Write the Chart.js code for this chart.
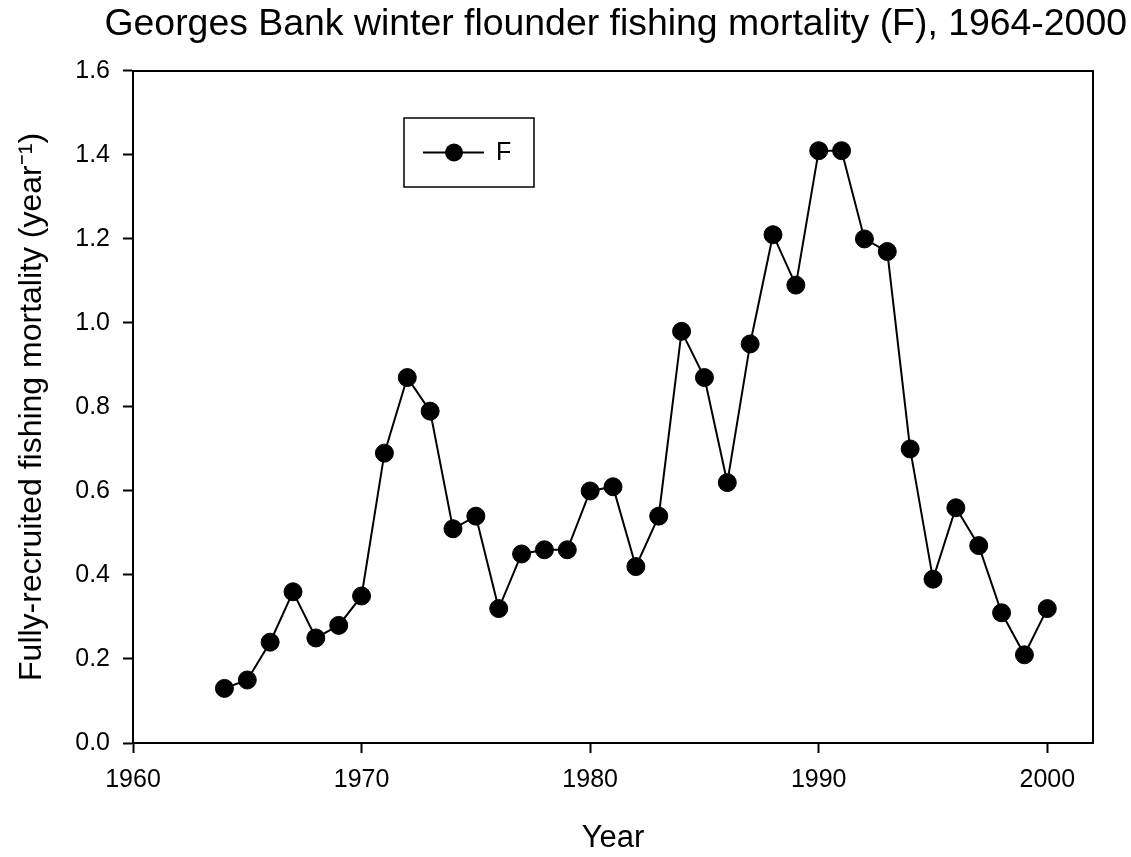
<!DOCTYPE html>
<html>
<head>
<meta charset="utf-8">
<script src="https://cdn.jsdelivr.net/npm/chart.js@4/dist/chart.umd.min.js"></script>
<style>
html,body{margin:0;padding:0;background:#fff;}
#wrap{width:1131px;height:857px;}
</style>
</head>
<body>
<div id="wrap"><canvas id="c" width="1131" height="857"></canvas></div>
<script>
const years = [1964,1965,1966,1967,1968,1969,1970,1971,1972,1973,1974,1975,1976,1977,1978,1979,1980,1981,1982,1983,1984,1985,1986,1987,1988,1989,1990,1991,1992,1993,1994,1995,1996,1997,1998,1999,2000];
const fValues = [0.13,0.15,0.24,0.36,0.25,0.28,0.35,0.69,0.87,0.79,0.51,0.54,0.32,0.45,0.46,0.46,0.60,0.61,0.42,0.54,0.98,0.87,0.62,0.95,1.21,1.09,1.41,1.41,1.20,1.17,0.70,0.39,0.56,0.47,0.31,0.21,0.32];
const seriesLabel = 'F';
const titleText = 'Georges Bank winter flounder fishing mortality (F), 1964-2000';
const xTitle = 'Year';
const yTitle = 'Fully-recruited fishing mortality (year\u207B\u00B9)';
const xTicks = [1960,1970,1980,1990,2000];
const yTicks = [0.0,0.2,0.4,0.6,0.8,1.0,1.2,1.4,1.6];

const FONT = '"Liberation Sans", Arial, Helvetica, sans-serif';

const framePlugin = {
  id: 'frame',
  afterDraw(chart) {
    const {ctx, chartArea: a} = chart;
    ctx.save();
    ctx.strokeStyle = '#000';
    ctx.lineWidth = 2;
    ctx.beginPath();
    ctx.moveTo(a.left, a.top);
    ctx.lineTo(a.right, a.top);
    ctx.lineTo(a.right, a.bottom);
    ctx.stroke();
    // legend box
    const bx = 404, by = 118, bw = 130, bh = 69;
    ctx.lineWidth = 1.5;
    ctx.strokeRect(bx, by, bw, bh);
    const cy = by + bh / 2;
    ctx.lineWidth = 2;
    ctx.beginPath();
    ctx.moveTo(423, cy);
    ctx.lineTo(484, cy);
    ctx.stroke();
    ctx.beginPath();
    ctx.arc(454, cy, 9, 0, Math.PI * 2);
    ctx.fillStyle = '#000';
    ctx.fill();
    ctx.font = '25px ' + FONT;
    ctx.textBaseline = 'middle';
    ctx.textAlign = 'left';
    ctx.fillText(chart.data.datasets[0].label, 496, cy + 1);
    ctx.restore();
  }
};

new Chart(document.getElementById('c'), {
  type: 'line',
  data: {
    datasets: [{
      label: seriesLabel,
      data: years.map((y, i) => ({x: y, y: fValues[i]})),
      borderColor: '#000',
      backgroundColor: '#000',
      borderWidth: 2,
      pointRadius: 9,
      pointBackgroundColor: '#000',
      pointBorderColor: '#000',
      pointBorderWidth: 1,
      tension: 0,
      fill: false
    }]
  },
  options: {
    responsive: false,
    animation: false,
    devicePixelRatio: 1,
    layout: {padding: {top: 0, right: 4, bottom: 0, left: 0}},
    plugins: {
      legend: {display: false},
      tooltip: {enabled: false},
      title: {
        display: true,
        text: titleText,
        align: 'end',
        color: '#000',
        font: {family: FONT, size: 37.4, weight: 'normal'},
        padding: {top: 2, bottom: 24}
      }
    },
    scales: {
      x: {
        type: 'linear',
        min: 1960,
        max: 2002,
        afterBuildTicks(s) { s.ticks = xTicks.map(v => ({value: v})); },
        afterFit(s) { s.height = 114; },
        ticks: {
          stepSize: 10,
          includeBounds: false,
          color: '#000',
          font: {family: FONT, size: 25},
          padding: 12,
          maxRotation: 0,
          callback: v => String(v)
        },
        grid: {display: true, drawOnChartArea: false, drawTicks: true, tickLength: 10, tickColor: '#000', tickWidth: 2},
        border: {display: true, color: '#000', width: 2},
        title: {display: true, text: xTitle, color: '#000', font: {family: FONT, size: 31}, padding: {top: 0, bottom: 0}}
      },
      y: {
        min: 0,
        max: 1.6,
        afterBuildTicks(s) { s.ticks = yTicks.map(v => ({value: v})); },
        afterFit(s) { s.width = 133; },
        ticks: {
          stepSize: 0.2,
          color: '#000',
          font: {family: FONT, size: 25},
          padding: 13,
          callback: v => Number(v).toFixed(1)
        },
        grid: {display: true, drawOnChartArea: false, drawTicks: true, tickLength: 10, tickColor: '#000', tickWidth: 2},
        border: {display: true, color: '#000', width: 2},
        title: {display: true, text: yTitle, color: '#000', font: {family: FONT, size: 32}, padding: {top: 13, bottom: 0}}
      },
      y2: {
        position: 'right',
        display: true,
        afterFit(s) { s.width = 34; },
        ticks: {display: false},
        grid: {display: false, drawTicks: false},
        border: {display: false}
      }
    }
  },
  plugins: [framePlugin]
});
</script>
</body>
</html>
